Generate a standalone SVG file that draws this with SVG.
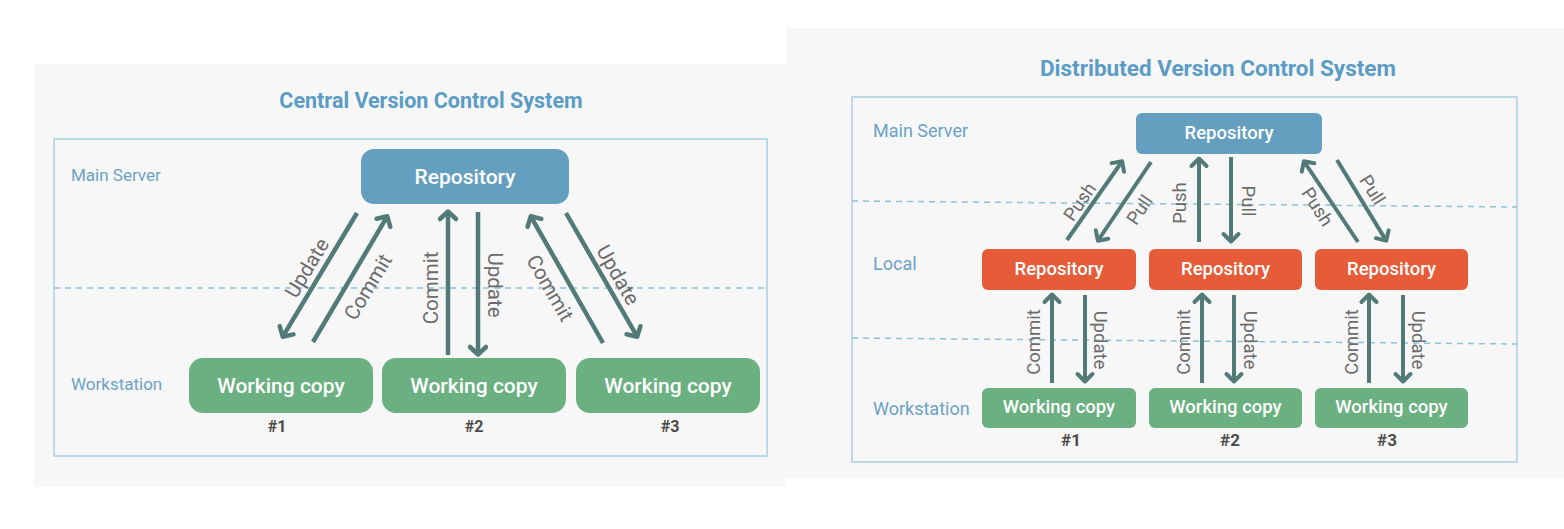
<svg xmlns="http://www.w3.org/2000/svg" width="1564" height="529" viewBox="0 0 1564 529">
<defs>
<style>
.bg{fill:#f7f7f7}
.frame{fill:none;stroke:#a9cfe2;stroke-width:1.5}
.dash{fill:none;stroke:#8fc1db;stroke-width:1.5;stroke-dasharray:6 5}
.title{font-family:Roboto,"Liberation Sans",sans-serif;font-weight:700;fill:#5b9cc5;text-anchor:middle}
.lane{font-family:Roboto,"Liberation Sans",sans-serif;fill:#6aa2c6}
.box-t{font-family:Roboto,"Liberation Sans",sans-serif;font-weight:500;fill:#ffffff;text-anchor:middle}
.num{font-family:Roboto,"Liberation Sans",sans-serif;font-weight:700;fill:#4a4a4a;text-anchor:middle}
.lbl{font-family:Roboto,"Liberation Sans",sans-serif;fill:#6b6b6b;text-anchor:middle;dominant-baseline:central}
.blue{fill:#649fbf}
.green{fill:#6bb081}
.orange{fill:#e65b38}
.arr{fill:none;stroke:#527b78;stroke-width:4.5;marker-end:url(#ah)}
.arr2{fill:none;stroke:#527b78;stroke-width:4;marker-end:url(#ah2)}
</style>
<marker id="ah" markerUnits="userSpaceOnUse" viewBox="-12 -12 18 24" refX="0" refY="0" markerWidth="18" markerHeight="24" orient="auto">
<path d="M-6,-8 L1.5,0 L-6,8" fill="none" stroke="#527b78" stroke-width="4.5" stroke-linejoin="round" stroke-linecap="round"/>
</marker>
<marker id="ah2" markerUnits="userSpaceOnUse" viewBox="-12 -12 18 24" refX="0" refY="0" markerWidth="18" markerHeight="24" orient="auto">
<path d="M-6,-7.5 L1.5,0 L-6,7.5" fill="none" stroke="#527b78" stroke-width="4" stroke-linejoin="round" stroke-linecap="round"/>
</marker>
</defs>
<rect x="0" y="0" width="1564" height="529" fill="#ffffff"/>

<!-- Left panel -->
<g id="central">
<rect class="bg" x="34" y="64" width="752" height="423"/>
<text class="title" x="431" y="108" font-size="21.5">Central Version Control System</text>
<rect class="frame" x="54" y="139" width="713" height="317"/>
<line class="dash" x1="54" y1="288" x2="767" y2="288"/>
<text class="lane" x="71" y="181" font-size="17">Main Server</text>
<text class="lane" x="71" y="390" font-size="17">Workstation</text>
</g>
<g id="c-repo">
<rect class="blue" x="361" y="149" width="208" height="55" rx="13"/>
<text class="box-t" x="465" y="184" font-size="21">Repository</text>
</g>
<g id="c-wc1">
<rect class="green" x="189" y="358" width="184" height="55" rx="14"/>
<text class="box-t" x="281" y="393" font-size="21">Working copy</text>
<text class="num" x="277" y="432" font-size="16">#1</text>
</g>
<g id="c-wc2">
<rect class="green" x="382" y="358" width="184" height="55" rx="14"/>
<text class="box-t" x="474" y="393" font-size="21">Working copy</text>
<text class="num" x="474" y="432" font-size="16">#2</text>
</g>
<g id="c-wc3">
<rect class="green" x="576" y="358" width="184" height="55" rx="14"/>
<text class="box-t" x="668" y="393" font-size="21">Working copy</text>
<text class="num" x="670" y="432" font-size="16">#3</text>
</g>
<g id="c-connectors">
<line class="arr" x1="357" y1="213" x2="283.5" y2="335.4"/>
<line class="arr" x1="313" y1="342" x2="386.5" y2="217.6"/>
<line class="arr" x1="448" y1="355" x2="448" y2="213"/>
<line class="arr" x1="478" y1="212" x2="478" y2="353"/>
<line class="arr" x1="603" y1="343" x2="531.5" y2="217.6"/>
<line class="arr" x1="566" y1="213" x2="636.5" y2="335.4"/>
<text class="lbl" font-size="20.5" transform="translate(307,268) rotate(-59)">Update</text>
<text class="lbl" font-size="20.5" transform="translate(368,287) rotate(-59)">Commit</text>
<text class="lbl" font-size="20.5" transform="translate(431,288) rotate(-90)">Commit</text>
<text class="lbl" font-size="20.5" transform="translate(495,285) rotate(90)">Update</text>
<text class="lbl" font-size="20.5" transform="translate(550,288) rotate(60)">Commit</text>
<text class="lbl" font-size="20.5" transform="translate(618,275) rotate(60)">Update</text>
</g>

<!-- Right panel -->
<g id="distributed">
<rect class="bg" x="786" y="28" width="778" height="450"/>
<text class="title" x="1218" y="76" font-size="22.5">Distributed Version Control System</text>
<rect class="frame" x="852" y="97" width="665" height="365"/>
<line class="dash" x1="852" y1="201" x2="1517" y2="207"/>
<line class="dash" x1="852" y1="338" x2="1517" y2="344"/>
<text class="lane" x="873" y="137" font-size="18">Main Server</text>
<text class="lane" x="873" y="270" font-size="18">Local</text>
<text class="lane" x="873" y="415" font-size="18">Workstation</text>
</g>
<g id="d-repo">
<rect class="blue" x="1136" y="113" width="186" height="41" rx="6"/>
<text class="box-t" x="1229" y="139" font-size="18.5">Repository</text>
</g>
<g id="d-local1">
<rect class="orange" x="982" y="249" width="154" height="41" rx="6"/>
<text class="box-t" x="1059" y="275" font-size="18.5">Repository</text>
</g>
<g id="d-local2">
<rect class="orange" x="1149" y="249" width="153" height="41" rx="6"/>
<text class="box-t" x="1225.5" y="275" font-size="18.5">Repository</text>
</g>
<g id="d-local3">
<rect class="orange" x="1315" y="249" width="153" height="41" rx="6"/>
<text class="box-t" x="1391.5" y="275" font-size="18.5">Repository</text>
</g>
<g id="d-wc1">
<rect class="green" x="982" y="388" width="154" height="40" rx="6"/>
<text class="box-t" x="1059" y="413" font-size="18.5">Working copy</text>
<text class="num" x="1071" y="446" font-size="17" font-weight="500">#1</text>
</g>
<g id="d-wc2">
<rect class="green" x="1149" y="388" width="153" height="40" rx="6"/>
<text class="box-t" x="1225.5" y="413" font-size="18.5">Working copy</text>
<text class="num" x="1230" y="446" font-size="17" font-weight="500">#2</text>
</g>
<g id="d-wc3">
<rect class="green" x="1315" y="388" width="153" height="40" rx="6"/>
<text class="box-t" x="1391.5" y="413" font-size="18.5">Working copy</text>
<text class="num" x="1387" y="446" font-size="17" font-weight="500">#3</text>
</g>
<g id="d-connectors">
<line class="arr2" x1="1067" y1="240" x2="1121.3" y2="162.5"/>
<line class="arr2" x1="1151" y1="162" x2="1098.7" y2="239.5"/>
<line class="arr2" x1="1199" y1="242" x2="1199" y2="160"/>
<line class="arr2" x1="1231" y1="157" x2="1231" y2="240"/>
<line class="arr2" x1="1358" y1="242" x2="1304.7" y2="162.5"/>
<line class="arr2" x1="1337" y1="160" x2="1385.4" y2="239.4"/>
<line class="arr2" x1="1052" y1="383" x2="1052" y2="296"/>
<line class="arr2" x1="1085" y1="295" x2="1085" y2="380"/>
<line class="arr2" x1="1202" y1="383" x2="1202" y2="296"/>
<line class="arr2" x1="1234" y1="295" x2="1234" y2="380"/>
<line class="arr2" x1="1369" y1="383" x2="1369" y2="296"/>
<line class="arr2" x1="1403" y1="295" x2="1403" y2="380"/>
<text class="lbl" font-size="18.5" transform="translate(1080,202) rotate(-55)">Push</text>
<text class="lbl" font-size="18.5" transform="translate(1140,210) rotate(-56)">Pull</text>
<text class="lbl" font-size="18.5" transform="translate(1180,203) rotate(-90)">Push</text>
<text class="lbl" font-size="18.5" transform="translate(1248,201) rotate(90)">Pull</text>
<text class="lbl" font-size="18.5" transform="translate(1317,207) rotate(57)">Push</text>
<text class="lbl" font-size="18.5" transform="translate(1372,190) rotate(58)">Pull</text>
<text class="lbl" font-size="18.5" transform="translate(1034,342) rotate(-90)">Commit</text>
<text class="lbl" font-size="18.5" transform="translate(1100,340) rotate(90)">Update</text>
<text class="lbl" font-size="18.5" transform="translate(1184,342) rotate(-90)">Commit</text>
<text class="lbl" font-size="18.5" transform="translate(1250,340) rotate(90)">Update</text>
<text class="lbl" font-size="18.5" transform="translate(1352,342) rotate(-90)">Commit</text>
<text class="lbl" font-size="18.5" transform="translate(1418,340) rotate(90)">Update</text>
</g>
</svg>
